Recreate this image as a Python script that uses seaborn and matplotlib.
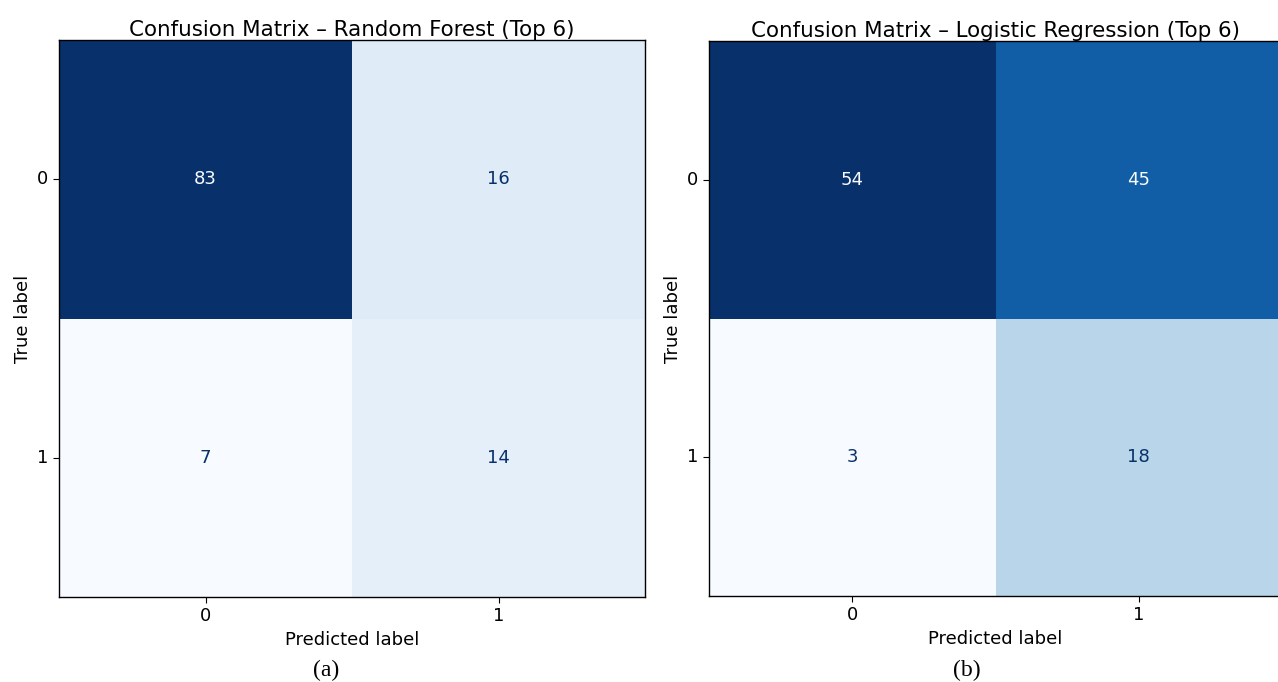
import numpy as np
import pandas as pd
import seaborn as sns
import matplotlib
matplotlib.use('Agg')
import matplotlib.pyplot as plt

plt.rcParams['font.family'] = ['DejaVu Sans']

# datos de las matrices de confusion
labels = ['0', '1']
cm_rf = [[83, 16],
         [7, 14]]
cm_lr = [[54, 45],
         [3, 18]]
titles = ['Confusion Matrix – Random Forest (Top 6)',
          'Confusion Matrix – Logistic Regression (Top 6)']
captions = ['(a)', '(b)']
caption_x = [326, 967]

fig = plt.figure(figsize=(12.78, 6.82), dpi=100)
W, H = 1278, 682
# posiciones en pixeles: izquierda, arriba, ancho, alto
boxes = [(59, 40, 586, 557), (709, 41, 573, 555)]

cmap = plt.get_cmap('Blues')
for cm, title, cap, cx, (x0, y0, w, h) in zip([cm_rf, cm_lr], titles, captions,
                                               caption_x, boxes):
    ax = fig.add_axes([x0 / W, (H - y0 - h) / H, w / W, h / H])
    data = pd.DataFrame(cm, index=labels, columns=labels)
    sns.heatmap(data, ax=ax, cmap='Blues', cbar=False, annot=True, fmt='d',
                annot_kws={'fontsize': 13})
    arr = np.array(cm)
    thresh = (arr.max() + arr.min()) / 2
    # color del texto como en sklearn
    for t in ax.texts:
        v = int(t.get_text())
        t.set_color(cmap(0.0) if v > thresh else cmap(1.0))
    for s in ax.spines.values():
        s.set_visible(True)
        s.set_linewidth(1.0)
    ax.tick_params(axis='both', labelsize=13, length=4)
    ax.set_yticklabels(labels, rotation=0)
    ax.set_xticklabels(labels, rotation=0)
    ax.set_title(title, fontsize=15.4, pad=3)
    ax.set_xlabel('Predicted label', fontsize=13)
    ax.set_ylabel('True label', fontsize=13)
    fig.text(cx / W, 1 - 670 / H, cap, ha='center', va='center',
             fontsize=17, family='Liberation Serif')

fig.savefig('out.png', dpi=100)
